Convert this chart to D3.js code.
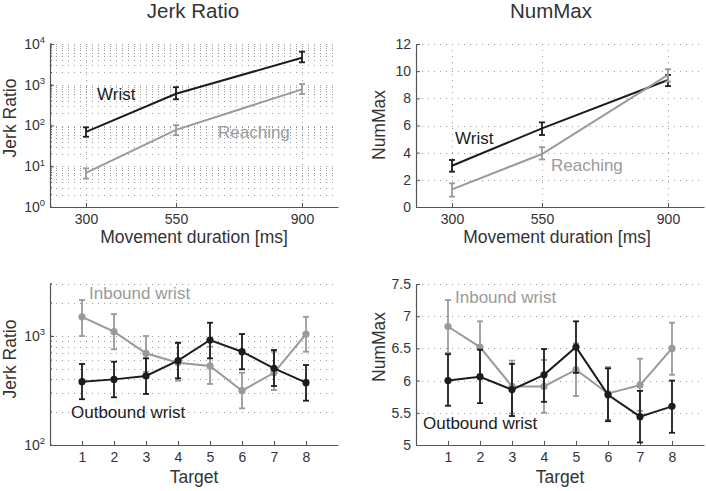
<!DOCTYPE html>
<html><head><meta charset="utf-8">
<script src="https://cdn.jsdelivr.net/npm/d3@7"></script>
<style>
body{margin:0;background:#fff;}
text{font-family:"Liberation Sans",Arial,Helvetica,sans-serif;}
</style></head>
<body><svg id="c" width="706" height="491"></svg>
<script>
// ---- data ----
const durations = [300, 550, 900];
const durationTicks = [300, 550, 900];
const jerkWrist = [70, 600, 4600];
const jerkWristLo = [53, 440, 3550];
const jerkWristHi = [90, 870, 6500];
const jerkReach = [6.9, 78, 770];
const jerkReachLo = [5.0, 58, 590];
const jerkReachHi = [8.9, 102, 1040];

const numWrist = [3.04, 5.79, 9.35];
const numWristLo = [2.6, 5.3, 8.9];
const numWristHi = [3.46, 6.23, 9.72];
const numReach = [1.3, 3.9, 9.72];
const numReachLo = [0.76, 3.5, 9.23];
const numReachHi = [1.74, 4.4, 10.14];
const numMaxTicksTop = [0, 2, 4, 6, 8, 10, 12];

const targets = [1, 2, 3, 4, 5, 6, 7, 8];
const inJerk = [1500, 1095, 694, 569, 531, 315, 460, 1043];
const inJerkLo = [1000, 755, 470, 389, 363, 217, 319, 718];
const inJerkHi = [2140, 1590, 1000, 857, 798, 460, 718, 1500];
const outJerk = [381, 400, 430, 594, 919, 718, 505, 373];
const outJerkLo = [263, 274, 294, 409, 624, 495, 348, 255];
const outJerkHi = [554, 581, 624, 868, 1324, 1043, 744, 542];

const inNum = [6.84, 6.52, 5.91, 5.91, 6.17, 5.80, 5.93, 6.50];
const inNumLo = [6.43, 6.10, 5.49, 5.50, 5.76, 5.39, 5.53, 6.09];
const inNumHi = [7.25, 6.92, 6.31, 6.32, 6.58, 6.21, 6.34, 6.90];
const outNum = [6.00, 6.06, 5.86, 6.09, 6.52, 5.78, 5.44, 5.60];
const outNumLo = [5.61, 5.65, 5.45, 5.67, 6.12, 5.37, 5.04, 5.19];
const outNumHi = [6.41, 6.48, 6.26, 6.49, 6.92, 6.19, 5.84, 6.00];
const numMaxTicksBottom = [5, 5.5, 6, 6.5, 7, 7.5];

const BLACK = "#1c1c1c", GRAY = "#9a9a9a", AXIS = "#555", TXT = "#333";
const svg = d3.select("#c");

function series(xs, ys, lo, hi){ return xs.map((x,i)=>({x, y:ys[i], lo:lo[i], hi:hi[i]})); }

function panel(o){
  const g = svg.append("g");
  const x = o.x, y = o.y;
  const [x0,x1] = x.range(), [y0,y1] = y.range(); // y0 bottom
  // grid
  const grid = g.append("g").attr("stroke","#9a9a9a").attr("stroke-width",1).attr("stroke-dasharray","1,5");
  o.hGrid.forEach(v=>grid.append("line").attr("x1",x0).attr("x2",x1).attr("y1",Math.round(y(v))+0.5).attr("y2",Math.round(y(v))+0.5));
  (o.vGrid||[]).forEach(v=>grid.append("line").attr("y1",y0).attr("y2",y1).attr("x1",Math.round(x(v))+0.5).attr("x2",Math.round(x(v))+0.5));
  // axes
  const xa = g.append("g").attr("transform",`translate(0,${y0})`)
    .call(d3.axisBottom(x).tickValues(o.xTicks).tickSizeInner(-4).tickSizeOuter(0).tickPadding(7).tickFormat(d3.format("d")));
  const ya = g.append("g").attr("transform",`translate(${x0},0)`)
    .call(d3.axisLeft(y).tickValues(o.yTicks).tickSizeInner(-4).tickSizeOuter(0).tickPadding(5).tickFormat(o.yFmt || (d=>d)));
  [xa,ya].forEach(a=>{
    a.select(".domain").attr("stroke",AXIS).attr("stroke-width",1.2);
    a.selectAll(".tick line").attr("stroke",AXIS);
    a.selectAll("text").attr("fill",TXT).style("font-size","14px").style("font-family",'"Liberation Sans",Arial,sans-serif');
  });
  if(o.logSup){
    ya.selectAll(".tick text").each(function(d){
      const t = d3.select(this); const e = Math.round(Math.log10(d));
      t.text(null);
      t.append("tspan").text("10");
      t.append("tspan").text(e).attr("dy","-0.6em").style("font-size","9.5px");
    });
  }
  (o.minor||[]).forEach(v=>g.append("line").attr("x1",x0).attr("x2",x0+2).attr("y1",y(v)).attr("y2",y(v)).attr("stroke",AXIS));
  // series
  o.series.forEach(s=>{
    const sg = g.append("g");
    sg.append("path").datum(s.data).attr("fill","none").attr("stroke",s.color).attr("stroke-width",2)
      .attr("d", d3.line().x(d=>x(d.x)).y(d=>y(d.y)));
    const eb = sg.append("g").attr("stroke",s.color).attr("stroke-width",1.8);
    s.data.forEach(d=>{
      const cx = x(d.x);
      eb.append("line").attr("x1",cx).attr("x2",cx).attr("y1",y(d.lo)).attr("y2",y(d.hi));
      eb.append("line").attr("x1",cx-3).attr("x2",cx+3).attr("y1",y(d.lo)).attr("y2",y(d.lo));
      eb.append("line").attr("x1",cx-3).attr("x2",cx+3).attr("y1",y(d.hi)).attr("y2",y(d.hi));
    });
    if(o.markers){
      sg.selectAll("circle").data(s.data).join("circle").attr("cx",d=>x(d.x)).attr("cy",d=>y(d.y)).attr("r",3.6).attr("fill",s.color);
    }
  });
  // labels
  o.labels.forEach(l=>g.append("text").attr("x",l.x).attr("y",l.y).attr("fill",l.color).style("font-size","17px").text(l.text));
  g.append("text").attr("x",(x0+x1)/2 + (o.xLabDx||0)).attr("y",o.xLabY).attr("text-anchor","middle").attr("fill",TXT).style("font-size","17.5px").text(o.xLabel);
  g.append("text").attr("transform",`translate(${o.yLabX},${o.yLabCy}) rotate(-90)`).attr("text-anchor","middle").attr("fill",TXT).style("font-size","17.5px").text(o.yLabel);
  if(o.title) g.append("text").attr("x",o.titleX).attr("y",18).attr("text-anchor","middle").attr("fill",TXT).style("font-size","20.5px").text(o.title);
}

// minor log values
function logMinor(lo, hi){ const r=[]; for(let e=Math.log10(lo); e<Math.log10(hi); e++){ for(let k=1;k<=9;k++){ const v=k*Math.pow(10,e); if(v>=lo && v<=hi) r.push(v);} } r.push(hi); return r; }

// Top-left
const xTL = d3.scaleLinear().domain([200,1000]).range([50,338]);
const yTL = d3.scaleLog().domain([1,10000]).range([207,44]);
panel({x:xTL, y:yTL, xTicks:durationTicks, yTicks:[1,10,100,1000,10000], logSup:true,
  hGrid: logMinor(1,10000).filter(v=>v>1), vGrid: durationTicks, minor: logMinor(1,10000),
  series:[
    {color:BLACK, data:series(durations,jerkWrist,jerkWristLo,jerkWristHi)},
    {color:GRAY, data:series(durations,jerkReach,jerkReachLo,jerkReachHi)}],
  labels:[{x:97,y:100,text:"Wrist",color:BLACK},{x:218,y:138,text:"Reaching",color:GRAY}],
  xLabel:"Movement duration [ms]", xLabY:243, yLabel:"Jerk Ratio", yLabX:16, yLabCy:118,
  title:"Jerk Ratio", titleX:193});

// Top-right
const xTR = d3.scaleLinear().domain([200,1000]).range([416,704]);
const yTR = d3.scaleLinear().domain([0,12]).range([207,44]);
panel({x:xTR, y:yTR, xTicks:durationTicks, yTicks:numMaxTicksTop,
  hGrid: numMaxTicksTop.filter(v=>v>0), vGrid: durationTicks,
  series:[
    {color:BLACK, data:series(durations,numWrist,numWristLo,numWristHi)},
    {color:GRAY, data:series(durations,numReach,numReachLo,numReachHi)}],
  labels:[{x:455,y:144,text:"Wrist",color:BLACK},{x:551,y:171,text:"Reaching",color:GRAY}],
  xLabel:"Movement duration [ms]", xLabDx:-3, xLabY:243, yLabel:"NumMax", yLabX:385, yLabCy:125,
  title:"NumMax", titleX:551});

// Bottom-left
const xBL = d3.scaleLinear().domain([0,9]).range([50,338]);
const yBL = d3.scaleLog().domain([100,3000]).range([445,284]);
panel({x:xBL, y:yBL, xTicks:targets, yTicks:[100,1000], logSup:true,
  hGrid: logMinor(100,3000).filter(v=>v>100), minor: logMinor(100,3000), markers:true,
  series:[
    {color:GRAY, data:series(targets,inJerk,inJerkLo,inJerkHi)},
    {color:BLACK, data:series(targets,outJerk,outJerkLo,outJerkHi)}],
  labels:[{x:89,y:299,text:"Inbound wrist",color:GRAY},{x:71,y:418,text:"Outbound wrist",color:BLACK}],
  xLabel:"Target", xLabY:483, yLabel:"Jerk Ratio", yLabX:16, yLabCy:359});

// Bottom-right
const xBR = d3.scaleLinear().domain([0,9]).range([416,704]);
const yBR = d3.scaleLinear().domain([5,7.5]).range([445,284]);
panel({x:xBR, y:yBR, xTicks:targets, yTicks:numMaxTicksBottom, yFmt:d=>String(d),
  hGrid: numMaxTicksBottom.filter(v=>v>5), markers:true,
  series:[
    {color:GRAY, data:series(targets,inNum,inNumLo,inNumHi)},
    {color:BLACK, data:series(targets,outNum,outNumLo,outNumHi)}],
  labels:[{x:455,y:303,text:"Inbound wrist",color:GRAY},{x:423,y:429,text:"Outbound wrist",color:BLACK}],
  xLabel:"Target", xLabY:483, yLabel:"NumMax", yLabX:385, yLabCy:347});
</script></body></html>
